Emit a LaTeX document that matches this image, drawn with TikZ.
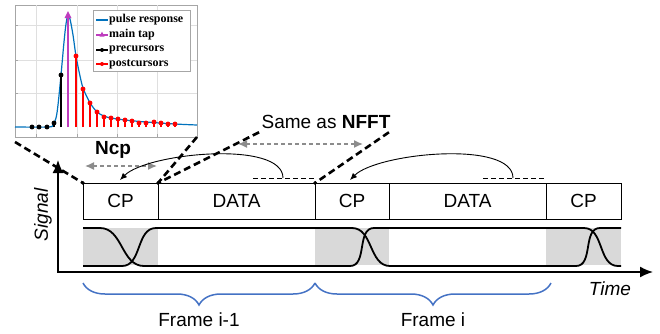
\documentclass[tikz,border=0pt]{standalone}
\usepackage{fontspec}
\setmainfont{Liberation Sans}
\newfontfamily\plotfont{Liberation Serif}
\usepackage{tikz}
\tikzset{>=latex}
\usetikzlibrary{arrows.meta, positioning, decorations.pathreplacing}

\definecolor{pulseblue}{RGB}{0,114,189}
\definecolor{tapmag}{RGB}{190,60,190}
\definecolor{bracblue}{RGB}{68,114,196}
\definecolor{arrgray}{RGB}{140,140,140}

\tikzset{
    seg/.style={draw, line width=0.8pt, minimum height=36pt, inner sep=0pt, outer sep=0pt, font=\fontsize{19}{22}\selectfont},
    lbl/.style={font=\fontsize{19}{22}\selectfont},
    leg/.style={anchor=west, inner sep=0pt, font=\plotfont\bfseries\fontsize{12}{12}\selectfont},
    zoomline/.style={line width=2.6pt, dash pattern=on 7pt off 4pt},
    gaparrow/.style={{Latex[length=9pt,width=8pt]}-{Latex[length=9pt,width=8pt]}, arrgray, line width=1.4pt, dash pattern=on 4pt off 3pt},
    copyarc/.style={-{Latex[length=7pt,width=6pt]}, line width=0.9pt},
    sigline/.style={line width=1.8pt},
    framebrace/.style={decorate, decoration={brace, mirror, amplitude=22pt}, bracblue, line width=1.5pt},
}

\begin{document}
\begin{tikzpicture}[x=1pt, y=-1pt]
    \useasboundingbox (0,0) rectangle (660,333);

    % inset plot
    \node[draw=gray!70, fill=white, minimum width=182pt, minimum height=132pt, inner sep=0pt, outer sep=0pt] (inset) at (106,71) {};
    \foreach \x in {36, 77, 117, 157}{
            \draw[gray!25] (\x,5) -- (\x,137);
            \draw[gray!70] (\x,137) -- (\x,134);
        }
    \foreach \y in {25, 60, 93}{
            \draw[gray!25] (15,\y) -- (197,\y);
            \draw[gray!70] (15,\y) -- (18,\y);
        }

    \draw[pulseblue, line width=1.2pt] plot[smooth, tension=0.55] coordinates {(15,127) (48,127) (53,125) (56,118) (58,105) (61,75) (64,42) (66,24) (68,15) (70,19) (73,35) (76,56) (80,76) (83,88) (87,97) (90,103) (97,112) (104,116) (111,118) (125,120) (146,122) (175,124) (197,125)};

    % cursors
    \foreach \x/\y in {32/127, 39/127, 47/127, 54/123, 61/75}{
            \draw[black, line width=1.1pt] (\x,127) -- (\x,\y);
            \filldraw[black] (\x,\y) circle[radius=2.2pt];
        }
    \draw[tapmag, line width=1.1pt] (68,127) -- (68,16);
    \fill[tapmag] (68,11) -- (64.5,18) -- (71.5,18) -- cycle;
    \foreach \x/\y in {76/56, 83/89, 90/103, 97/112, 104/117, 111/118, 118/119, 125/120, 132/121, 139/123, 146/123, 154/122, 161/123, 168/124, 175/124}{
            \draw[red, line width=1.1pt] (\x,127) -- (\x,\y);
            \filldraw[red] (\x,\y) circle[radius=2.2pt];
        }

    % legend
    \node[draw=gray!70, fill=white, minimum width=97pt, minimum height=61pt, inner sep=0pt] (legend) at (141.5,40.5) {};
    \draw[pulseblue, line width=1.2pt] (96,20) -- (108,20);
    \draw[tapmag, line width=1.2pt] (96,35) -- (108,35);
    \fill[tapmag] (102,31.5) -- (99.5,36.5) -- (104.5,36.5) -- cycle;
    \draw[black, line width=1.2pt] (96,50) -- (108,50);
    \fill[black] (102,50) circle[radius=2pt];
    \draw[red, line width=1.2pt] (96,64) -- (108,64);
    \fill[red] (102,64) circle[radius=2pt];
    \node[leg] (lpulse) at (109,20) {pulse response};
    \node[leg] (lmain) at (109,35) {main tap};
    \node[leg] (lpre) at (109,50) {precursors};
    \node[leg] (lpost) at (109,64) {postcursors};

    % frame boxes
    \node[seg, minimum width=75pt] (cp1) at (120.5,201) {CP};
    \node[seg, minimum width=157pt, right=0pt of cp1] (data1) {DATA};
    \node[seg, minimum width=74pt, right=0pt of data1] (cp2) {CP};
    \node[seg, minimum width=157pt, right=0pt of cp2] (data2) {DATA};
    \node[seg, minimum width=75pt, right=0pt of data2] (cp3) {CP};

    % signal
    \foreach \c in {cp1, cp2, cp3}{
            \fill[gray!30] (\c.west |- 0,228) rectangle (\c.east |- 0,265);
        }
    \draw[sigline] (83,228) -- (100,228) to[out=0, in=180] (144,266) -- (350,266) to[out=0, in=180] (374,228) -- (584,228) to[out=0, in=180] (618,266) -- (621,266);
    \draw[sigline] (83,266) -- (122,266) to[out=0, in=180] (156,228) -- (352,228) to[out=0, in=180] (390,266) -- (576,266) to[out=0, in=180] (600,228) -- (621,228);

    % axes
    \coordinate (O) at (58,272);
    \coordinate (tend) at (653,272);
    \coordinate (send) at (58,160);
    \draw[line width=1.6pt, {Latex[length=13pt,width=11pt]}-{Latex[length=13pt,width=11pt]}] (send) -- (O) -- (tend);
    \node[lbl, rotate=90] (sig) at (43,215) {\itshape Signal};
    \node[lbl] (time) at (610,289) {\itshape Time};

    % frames
    \draw[framebrace] (cp1.west |- 0,283) -- (cp2.west |- 0,283);
    \draw[framebrace] (cp2.west |- 0,283) -- (551,283);
    \node[lbl] (fr1) at (199,320) {Frame i-1};
    \node[lbl] (fr2) at (433,320) {Frame i};

    % annotations
    \node[lbl] (same) at (326,122) {Same as \textbf{NFFT}};
    \node[lbl] (ncp) at (113,150) {\textbf{Ncp}};
    \coordinate (zstart) at ([yshift=-5pt]inset.south west);
    \draw[zoomline] (zstart) -- (cp1.north west);
    \draw[zoomline] (inset.south east) -- (data1.north west);
    \draw[zoomline] ([xshift=1pt]same.south west) -- (data1.north west);
    \draw[zoomline] ([xshift=-5pt]same.south east) -- (cp2.north west);
    \foreach \n in {cp1, data1, cp2}{
            \filldraw[black] (\n.north west) circle[radius=1.5pt];
        }

    \coordinate (ncpa) at (85,166);
    \coordinate (ncpb) at (157,166);
    \coordinate (nffta) at (238,144);
    \coordinate (nfftb) at (363,144);
    \draw[gaparrow] (ncpa) -- (ncpb);
    \draw[gaparrow] (nffta) -- (nfftb);

    % copied tails
    \coordinate (tail1a) at (253,178);
    \coordinate (tail1b) at (314,178);
    \coordinate (tail2a) at (483,178);
    \coordinate (tail2b) at (545,178);
    \draw[line width=1pt, dash pattern=on 5pt off 3pt] (tail1a) -- (tail1b);
    \draw[line width=1pt, dash pattern=on 5pt off 3pt] (tail2a) -- (tail2b);
    \coordinate (src1) at (283,178);
    \coordinate (dst1) at (120,180);
    \coordinate (src2) at (513,178);
    \coordinate (dst2) at (350,180);
    \draw[copyarc] (src1) to[out=90, in=45, looseness=0.6] (dst1);
    \draw[copyarc] (src2) to[out=90, in=45, looseness=0.6] (dst2);

\end{tikzpicture}
\end{document}
